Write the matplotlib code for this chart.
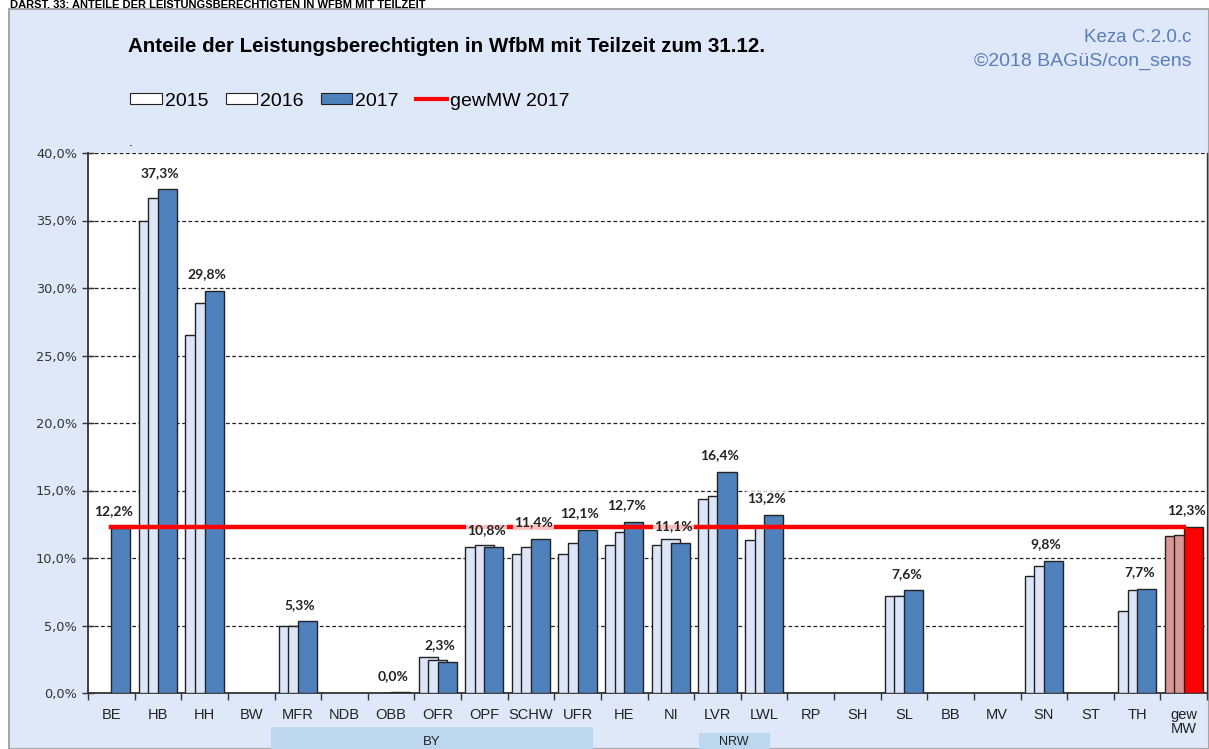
import numpy as np
import matplotlib
matplotlib.use("Agg")
import matplotlib.pyplot as plt
from matplotlib.patches import Rectangle
from matplotlib.lines import Line2D

categories = ["BE", "HB", "HH", "BW", "MFR", "NDB", "OBB", "OFR", "OPF", "SCHW", "UFR",
              "HE", "NI", "LVR", "LWL", "RP", "SH", "SL", "BB", "MV", "SN", "ST", "TH", "gew\nMW"]
nan = np.nan
v2015 = [nan, 35.0, 26.5, nan, 5.0, nan, nan, 2.7, 10.8, 10.3, 10.3,
         11.0, 11.0, 14.4, 11.3, nan, nan, 7.2, nan, nan, 8.7, nan, 6.1, 11.6]
v2016 = [nan, 36.7, 28.9, nan, 5.0, nan, 0.02, 2.45, 11.0, 10.8, 11.1,
         11.9, 11.4, 14.6, 12.3, nan, nan, 7.2, nan, nan, 9.4, nan, 7.6, 11.7]
v2017 = [12.2, 37.3, 29.8, nan, 5.3, nan, 0.04, 2.3, 10.8, 11.4, 12.1,
         12.7, 11.1, 16.4, 13.2, nan, nan, 7.6, nan, nan, 9.8, nan, 7.7, 12.3]
gew_mw_2017 = 12.3
yticks = [0, 5, 10, 15, 20, 25, 30, 35, 40]

W, H = 1209, 749
fig = plt.figure(figsize=(W / 100, H / 100), dpi=100)
fig.patch.set_facecolor("white")

# light blue chart area with gray border
fig.patches.append(Rectangle((9 / W, 0), 1 - 9 / W, 1 - 9 / H, transform=fig.transFigure,
                             facecolor="#DEE8F9", edgecolor="#A6A6A6", linewidth=1.5, zorder=-5))

# heading at the very top
fig.text(10 / W, 1 - 7.5 / H, "DARST. 33: ANTEILE DER LEISTUNGSBERECHTIGTEN IN WFBM MIT TEILZEIT",
         fontsize=8, fontweight="bold", family="Liberation Sans", ha="left", va="baseline",
         color="black")

ax = fig.add_axes([88 / W, 1 - 693 / H, (1207 - 88) / W, (693 - 153) / H])
ax.set_zorder(3)
ax.set_facecolor("white")

x = np.arange(len(categories))
bw = 0.41
light = "#DCE6F8"
blue = "#4F81BD"
edge = "#222222"
c15 = [light] * (len(categories) - 1) + ["#D99694"]
c17 = [blue] * (len(categories) - 1) + ["#FF0000"]

ax.bar(x - 0.41, v2015, width=bw, align="edge", color=c15, edgecolor=edge, linewidth=1.0, zorder=3)
ax.bar(x - 0.205, v2016, width=bw, align="edge", color=c15, edgecolor=edge, linewidth=1.0, zorder=4)
ax.bar(x, v2017, width=bw, align="edge", color=c17, edgecolor=edge, linewidth=1.0, zorder=5)

ax.plot([0, len(categories) - 1], [gew_mw_2017, gew_mw_2017], color="#FF0000", linewidth=3.2, zorder=6)

for xi, v in zip(x, v2017):
    if np.isnan(v):
        continue
    lbl = f"{v:.1f}%".replace(".", ",")
    ax.text(xi + 0.05, v + 0.8, lbl, ha="center", va="bottom", fontsize=10, fontweight="bold",
            family="Lato", color="#222222", zorder=7, clip_on=True,
            bbox=dict(facecolor="white", edgecolor="none", alpha=0.75, pad=0.8))

ax.set_xlim(-0.5, len(categories) - 0.5)
ax.set_ylim(0, 40)
ax.set_yticks(yticks)
ax.set_yticklabels([f"{t:.1f}%".replace(".", ",") for t in yticks], family="DejaVu Sans",
                   fontsize=9.3, color="#333333")
ax.yaxis.grid(True, linestyle=(0, (3, 2)), color="#222222", linewidth=0.9, zorder=1)
ax.set_axisbelow(True)
ax.tick_params(axis="y", direction="inout", length=8, width=1, color="#333333", pad=4)

ax.set_xticks(x)
ax.set_xticklabels(categories, family="Liberation Sans", fontsize=10.5, color="#222222",
                   linespacing=0.95)
ax.set_xticks(np.arange(-0.5, len(categories), 1.0), minor=True)
ax.tick_params(axis="x", which="major", length=0, pad=11)
ax.tick_params(axis="x", which="minor", direction="out", length=5, width=1, color="#333333")

for s in ["left", "bottom"]:
    ax.spines[s].set_color("#333333")
    ax.spines[s].set_linewidth(1.3)
ax.spines["top"].set_visible(False)
ax.spines["right"].set_color("#333333")
ax.spines["right"].set_linewidth(1.0)

# title and source
fig.text(447 / W, 1 - 47 / H, "Anteile der Leistungsberechtigten in WfbM mit Teilzeit zum 31.12.",
         ha="center", va="center", fontsize=14.8, fontweight="bold", family="Liberation Sans",
         color="black")
fig.text(1192 / W, 1 - 37 / H, "Keza C.2.0.c", ha="right", va="center", fontsize=13.5,
         family="Liberation Sans", color="#5A7EB8")
fig.text(1192 / W, 1 - 61 / H, "\u00a92018 BAG\u00fcS/con_sens", ha="right", va="center",
         fontsize=14, family="Liberation Sans", color="#5A7EB8")
fig.text(131 / W, 1 - 142 / H, ".", ha="center", va="center", fontsize=9, color="black")

# legend
handles = [Rectangle((0, 0), 1, 1, facecolor="white", edgecolor="#222222", linewidth=0.8),
           Rectangle((0, 0), 1, 1, facecolor="white", edgecolor="#222222", linewidth=0.8),
           Rectangle((0, 0), 1, 1, facecolor=blue, edgecolor="#222222", linewidth=0.8),
           Line2D([0], [0], color="#FF0000", linewidth=3)]
fig.legend(handles, ["2015", "2016", "2017", "gewMW 2017"], loc="center left",
           bbox_to_anchor=(113 / W, 1 - 101 / H), ncol=4, frameon=False,
           prop={"family": "Liberation Sans", "size": 14}, handlelength=1.6, handleheight=0.55,
           handletextpad=0.15, columnspacing=0.9)

# group boxes under axis
fig.patches.append(Rectangle((271 / W, 0), (593 - 271) / W, (749 - 727) / H,
                             transform=fig.transFigure, facecolor="#BDD7EE", edgecolor="none", zorder=1))
fig.text(432 / W, 1 - 742 / H, "BY", ha="center", va="center", fontsize=9.5,
         family="Liberation Sans", color="#222222")
fig.patches.append(Rectangle((699 / W, 0), (770 - 699) / W, (749 - 733) / H,
                             transform=fig.transFigure, facecolor="#BDD7EE", edgecolor="none", zorder=1))
fig.text(734 / W, 1 - 742 / H, "NRW", ha="center", va="center", fontsize=9,
         family="Liberation Sans", color="#222222")

fig.savefig("out.png", dpi=100, facecolor=fig.get_facecolor())
